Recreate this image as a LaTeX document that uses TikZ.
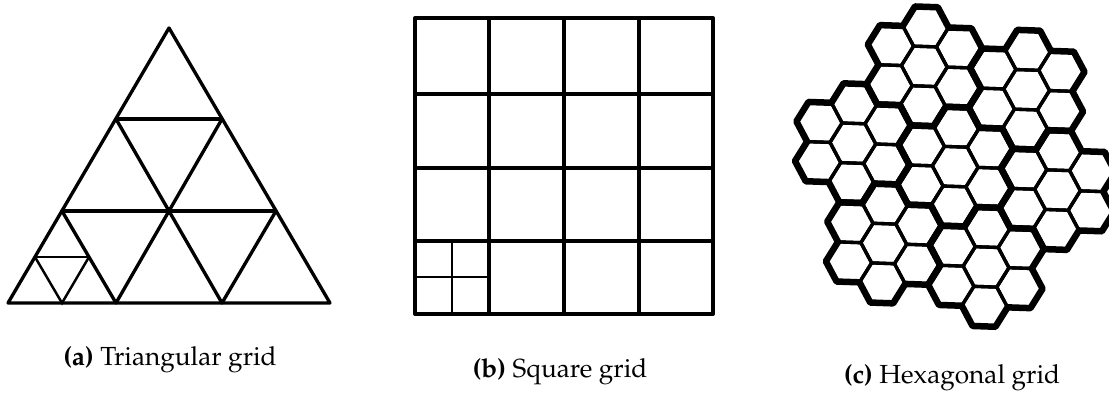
\documentclass[tikz,border=0pt]{standalone}
\usepackage[T1]{fontenc}
\usepackage{mathpazo}
\tikzset{
  trid/.style={line width=1.9pt, line cap=round, line join=round},
  trisub/.style={line width=1.4pt, line cap=round},
  sqouter/.style={line width=2.3pt, line join=round},
  sqin/.style={line width=2.0pt},
  sqsub/.style={line width=1.5pt},
  hexthin/.style={line width=1.9pt, line join=round},
  hexthick/.style={line width=3.7pt, line join=round},
  captext/.style={font=\fontsize{14.9}{18}\selectfont, anchor=base, inner sep=0pt}
}
\begin{document}
\begin{tikzpicture}[x=0.02cm,y=-0.02cm]
\useasboundingbox (0,0) rectangle (1109,401);
% ---------- triangular grid ----------
\coordinate (A) at (169,28);
\coordinate (BL) at (8,303);
\coordinate (BR) at (330,303);
\coordinate (L1) at (116,119);
\coordinate (R1) at (222,119);
\coordinate (L2) at (62,211);
\coordinate (R2) at (276,211);
\coordinate (B1) at (116,303);
\coordinate (B2) at (222,303);
\coordinate (SL) at (35,257);
\coordinate (SR) at (89,257);
\coordinate (SB) at (62,303);
\draw[trid] (A) -- (BL) -- (BR) -- cycle;
\draw[trid] (L1) -- (R1);
\draw[trid] (L2) -- (R2);
\draw[trid] (L1) -- (B2);
\draw[trid] (R1) -- (B1);
\draw[trid] (L2) -- (B1);
\draw[trid] (R2) -- (B2);
\draw[trisub] (SL) -- (SR);
\draw[trisub] (SL) -- (SB) -- (SR);
% ---------- square grid ----------
\draw[sqouter] (415,18) rectangle (713,314);
\foreach \xx in {489,564,639} \draw[sqin] (\xx,18) -- (\xx,314);
\foreach \yy in {94,168,241} \draw[sqin] (415,\yy) -- (713,\yy);
\draw[sqsub] (452,241) -- (452,314);
\draw[sqsub] (415,277) -- (489,277);
% ---------- hexagonal grid ----------
\begin{scope}[shift={(925.7,26.7)}, rotate=-2]
\foreach \q/\s in {-3/4,-3/5,
  -2/3,-2/4,-2/5,-2/6,-2/7,
  -1/1,-1/2,-1/3,-1/4,-1/5,-1/6,-1/7,
  0/0,0/1,0/2,0/3,0/4,0/5,0/6,
  1/0,1/1,1/2,1/3,1/4,1/5,1/6,
  2/0,2/1,2/2,2/3,2/4,2/5,2/6,
  3/-1,3/0,3/1,3/2,3/3,3/4,3/5,
  4/-1,4/0,4/1,4/2,4/3,
  5/1,5/2}{
  \pgfmathsetmacro\cx{34.35*\q}
  \pgfmathsetmacro\cy{19.83*\q+39.66*\s}
  \draw[hexthin] ({\cx+22.9},{\cy}) -- ({\cx+11.45},{\cy+19.83}) -- ({\cx-11.45},{\cy+19.83})
     -- ({\cx-22.9},{\cy}) -- ({\cx-11.45},{\cy-19.83}) -- ({\cx+11.45},{\cy-19.83}) -- cycle;
}
\foreach \q/\s in {1/3,2/5,-1/6,-2/4,0/1,3/0,4/2}{
  \pgfmathsetmacro\cx{34.35*\q}
  \pgfmathsetmacro\cy{19.83*\q+39.66*\s}
  \draw[hexthick] ({\cx+39.66*cos(30)+22.9*cos(-60)},{\cy+39.66*sin(30)+22.9*sin(-60)})
    \foreach \k in {0,...,5}{ \foreach \j in {-90,-30,30}{
      -- ({\cx+39.66*cos(30+60*\k)+22.9*cos(30+60*\k+(\j))},{\cy+39.66*sin(30+60*\k)+22.9*sin(30+60*\k+(\j))}) } } -- cycle;
}
\end{scope}
% ---------- captions ----------
\node[captext] (capa) at (170,366) {\textbf{(a)} Triangular grid};
\node[captext] (capb) at (560,378) {\textbf{(b)} Square grid};
\node[captext] (capc) at (952,384) {\textbf{(c)} Hexagonal grid};
\end{tikzpicture}
\end{document}
